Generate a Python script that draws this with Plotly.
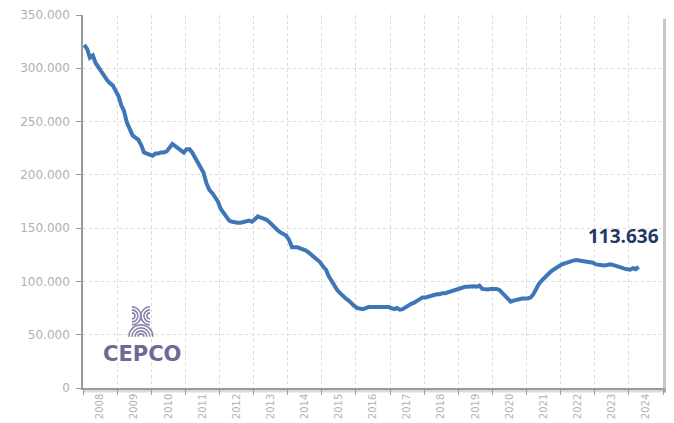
import pandas as pd
import plotly.graph_objects as go

# monthly values, thousands (Jan 2008 - Apr 2024)
v2008 = [322, 318, 310, 312, 305, 301, 296, 292, 289, 286, 284, 279]
v2009 = [274, 265, 260, 249, 242, 237, 235, 233, 228, 221, 220, 219]
v2010 = [218, 220, 220, 221, 221, 222, 225, 229, 227, 225, 222, 221]
v2011 = [224, 224, 221, 216, 212, 208, 202, 192, 186, 183, 179, 175]
v2012 = [168, 164, 160, 157, 156, 155, 155, 155, 156, 156, 157, 156]
v2013 = [158, 161, 160, 159, 158, 156, 153, 150, 148, 146, 144, 143]
v2014 = [139, 132, 132, 132, 131, 130, 129, 127, 125, 123, 121, 118]
v2015 = [114, 111, 105, 100, 96, 92, 89, 86, 84, 82, 79, 77]
v2016 = [75, 74, 74, 75, 76, 76, 76, 76, 76, 76, 76, 76]
v2017 = [75, 74, 75, 73.5, 74, 76, 77, 79, 80, 82, 83, 85]
v2018 = [85, 86, 86, 87, 88, 88, 89, 89, 90, 91, 92, 93]
v2019 = [93, 94, 95, 95, 95.5, 95.5, 95, 96, 93, 92.5, 92.5, 93]
v2020 = [93, 93, 92, 89, 86, 83, 81, 82, 83, 83, 84, 84]
v2021 = [84, 85, 88, 93, 98, 101, 104, 107, 109, 111, 113, 115]
v2022 = [116, 117, 118, 119, 119.5, 120, 119.5, 119.5, 119, 118.5, 118, 117.5]
v2023 = [116, 115.5, 115, 115, 115.5, 116, 115.5, 114.5, 113, 112.5, 112, 111.5]
v2024 = [111, 112.5, 111.5, 113.636]

values = (v2008 + v2009 + v2010 + v2011 + v2012 + v2013 + v2014 + v2015 + v2016
          + v2017 + v2018 + v2019 + v2020 + v2021 + v2022 + v2023 + v2024)
months = pd.date_range("2008-01-01", periods=len(values), freq="MS") + pd.Timedelta(days=14)

years = list(range(2008, 2025))
year_labels = [str(y) for y in years]
y_ticks = [0, 50, 100, 150, 200, 250, 300, 350]
y_labels = ["0", "50.000", "100.000", "150.000", "200.000", "250.000", "300.000", "350.000"]
last_label = "113.636"

fig = go.Figure()
fig.add_trace(go.Scatter(x=months, y=values, mode="lines",
                         line=dict(color="#3F76B8", width=4), hoverinfo="skip"))

grid_col = "#dcdcdc"
fig.update_xaxes(
    type="date", range=["2008-01-01", "2025-01-01"], automargin=False,
    tickvals=[f"{y}-07-02" for y in years], ticktext=year_labels,
    tickangle=-90, ticks="", showgrid=False,
    tickfont=dict(family="DejaVu Sans", size=10, color="#b5b5b5"),
    showline=True, linecolor="#9a9a9a", linewidth=1.5,
    minor=dict(dtick="M12", tick0="2008-01-01", showgrid=True, gridcolor=grid_col,
               griddash="dot", gridwidth=1, ticks="outside", ticklen=5,
               tickcolor="#9a9a9a"),
    zeroline=False,
)
fig.update_yaxes(
    range=[0, 350], tickvals=y_ticks, ticktext=y_labels, automargin=False,
    ticks="outside", ticklen=5, tickcolor="#9a9a9a", ticklabelstandoff=4,
    tickfont=dict(family="DejaVu Sans", size=12, color="#b0b0b0"),
    showgrid=True, gridcolor=grid_col, griddash="dot", gridwidth=1,
    showline=True, linecolor="#9a9a9a", linewidth=1.5, zeroline=False,
)

shapes = [
    # shadow right and bottom
    dict(type="rect", xref="paper", yref="paper", x0=1.0, x1=1.007, y0=-0.012, y1=0.99,
         fillcolor="rgba(0,0,0,0.22)", line=dict(width=0), layer="below"),
    dict(type="rect", xref="paper", yref="paper", x0=0.0, x1=1.007, y0=-0.012, y1=0.0,
         fillcolor="rgba(0,0,0,0.14)", line=dict(width=0), layer="below"),
]

# logo arcs
logo_col = "#8a84ab"
def arc_up(r):
    k = 0.552 * r
    return f"M {-r},0 C {-r},{k} {-k},{r} 0,{r} C {k},{r} {r},{k} {r},0"

def arc_side(cx, cy, r, side):
    k = 0.552 * r
    s = 1 if side == "right" else -1
    return (f"M {cx},{cy + r} C {cx + s * k},{cy + r} {cx + s * r},{cy + k} {cx + s * r},{cy} "
            f"C {cx + s * r},{cy - k} {cx + s * k},{cy - r} {cx},{cy - r}")

logo_paths = [arc_up(r) for r in (3, 6, 9, 12)]
logo_paths += [arc_side(-9, 21, r, "right") for r in (3, 6, 9)]
logo_paths += [arc_side(9, 21, r, "left") for r in (3, 6, 9)]
for p in logo_paths:
    shapes.append(dict(type="path", xref="x", yref="y", xsizemode="pixel", ysizemode="pixel",
                       xanchor="2009-09-12", yanchor=48, path=p,
                       line=dict(color=logo_col, width=1.6)))

# page has an 8px body offset, so the figure is 8px smaller than the window
fig.update_layout(
    width=666, height=415,
    margin=dict(l=75, r=11, t=7, b=35),
    paper_bgcolor="white", plot_bgcolor="white",
    showlegend=False, shapes=shapes,
    annotations=[
        dict(x=months[-1], y=values[-1], xref="x", yref="y", text=f"<b>{last_label}</b>",
             showarrow=False, xanchor="center", yanchor="bottom", xshift=-15, yshift=16,
             font=dict(family="Open Sans", size=19, color="#1F3864")),
        dict(x="2009-08-01", y=32, xref="x", yref="y", text="<b>CEPCO</b>",
             showarrow=False, xshift=5, font=dict(family="DejaVu Sans", size=21, color="#6f6996")),
    ],
)

fig.write_html("out.html")
